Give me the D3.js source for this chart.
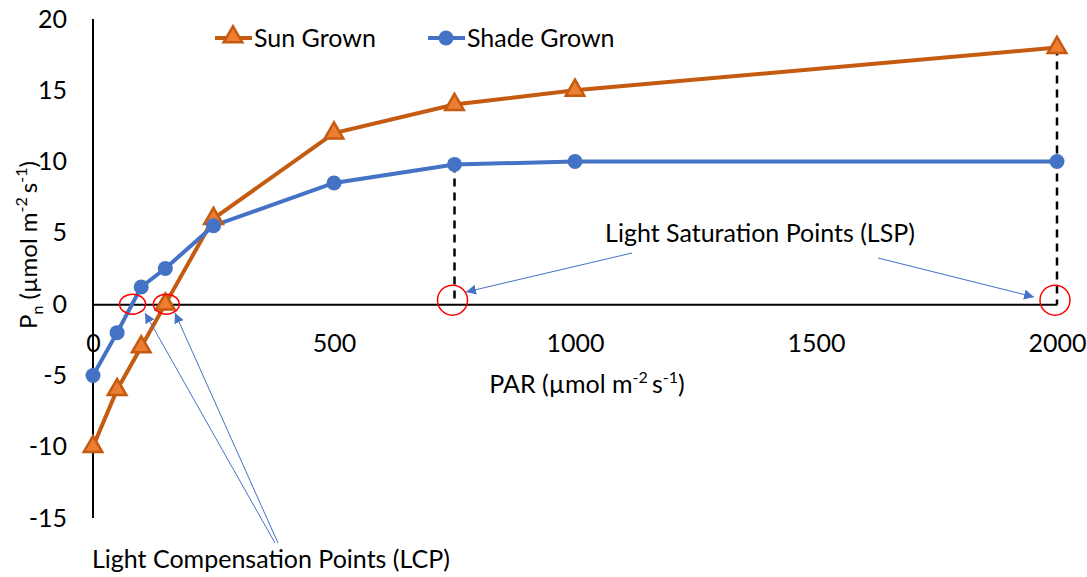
<!DOCTYPE html>
<html>
  <head>
    <meta charset="utf-8">
    <title>Light response curves</title>
    <script src="https://d3js.org/d3.v7.min.js"></script>
    <style>
      body { margin: 0; background: #fff; }
      svg text { font-family: Lato, "Open Sans", sans-serif; fill: #000; }
      .axis text { font-size: 25px; }
      .axis path { stroke: #000; stroke-width: 2px; }
    </style>
  </head>
  <body>
    <svg width="1087" height="577"></svg>
    <script>
      // data
      var par = [0, 50, 100, 150, 250, 500, 750, 1000, 2000];
      var sunGrown = [-10, -6, -3, 0, 6, 12, 14, 15, 18];
      var shadeGrown = [-5, -2, 1.2, 2.5, 5.5, 8.5, 9.8, 10, 10];
      var xTicks = [0, 500, 1000, 1500, 2000];
      var yTicks = [-15, -10, -5, 0, 5, 10, 15, 20];
      var lcp = [{x: 80, s: "shade"}, {x: 150, s: "sun"}];
      var lsp = [{x: 750, y: 9.8}, {x: 2000, y: 18}];

      var sunColor = "#c55a11", shadeColor = "#4472c4";

      var svg = d3.select("svg");

      var x = d3.scaleLinear().domain([0, 2000]).range([93, 1057]);
      var y = d3.scaleLinear().domain([-15, 20]).range([518, 19]);

      svg.append("defs").append("marker")
          .attr("id", "arrow")
          .attr("viewBox", "0 0 10 10")
          .attr("refX", 10).attr("refY", 5)
          .attr("markerWidth", 10).attr("markerHeight", 10)
          .attr("markerUnits", "userSpaceOnUse")
          .attr("orient", "auto")
        .append("path")
          .attr("d", "M0,0L10,5L0,10z")
          .attr("fill", shadeColor);

      var plain = function(d) { return String(d); };

      // y axis
      var yAxis = svg.append("g")
          .attr("class", "axis")
          .attr("transform", "translate(" + x(0) + ",0)")
          .call(d3.axisLeft(y).tickValues(yTicks).tickFormat(plain).tickSize(0).tickPadding(26));
      yAxis.select(".domain").attr("d", "M0," + y(20) + "V" + y(-15));

      // x axis on the zero line, labels low
      var xAxis = svg.append("g")
          .attr("class", "axis")
          .attr("transform", "translate(0," + y(0) + ")")
          .call(d3.axisBottom(x).tickValues(xTicks).tickFormat(plain).tickSize(0).tickPadding(30));
      xAxis.select(".domain").attr("stroke-width", 1.5);

      // dashed drops to the axis
      svg.selectAll(".drop")
          .data(lsp)
          .enter().append("line")
          .attr("x1", function(d) { return x(d.x); })
          .attr("x2", function(d) { return x(d.x); })
          .attr("y1", function(d) { return y(d.y); })
          .attr("y2", y(0))
          .attr("stroke", "#000")
          .attr("stroke-width", 2.5)
          .attr("stroke-dasharray", "8,6");

      var line = d3.line()
          .x(function(d, i) { return x(par[i]); })
          .y(function(d) { return y(d); });

      svg.append("path")
          .datum(sunGrown)
          .attr("d", line)
          .attr("fill", "none")
          .attr("stroke", sunColor)
          .attr("stroke-width", 4);

      svg.append("path")
          .datum(shadeGrown)
          .attr("d", line)
          .attr("fill", "none")
          .attr("stroke", shadeColor)
          .attr("stroke-width", 4);

      var tri = d3.symbol().type(d3.symbolTriangle).size(150);

      svg.selectAll(".sun")
          .data(sunGrown)
          .enter().append("path")
          .attr("transform", function(d, i) { return "translate(" + x(par[i]) + "," + y(d) + ")"; })
          .attr("d", tri)
          .attr("fill", "#ed7d31")
          .attr("stroke", sunColor)
          .attr("stroke-width", 2.5);

      svg.selectAll(".shade")
          .data(shadeGrown)
          .enter().append("circle")
          .attr("cx", function(d, i) { return x(par[i]); })
          .attr("cy", function(d) { return y(d); })
          .attr("r", 7.5)
          .attr("fill", shadeColor);

      // red rings
      svg.selectAll(".lcpRing")
          .data(lcp)
          .enter().append("ellipse")
          .attr("cx", function(d) { return x(d.x) + 1; })
          .attr("cy", y(0))
          .attr("rx", 13).attr("ry", 10)
          .attr("fill", "none")
          .attr("stroke", "#ff0000")
          .attr("stroke-width", 1.5);

      svg.selectAll(".lspRing")
          .data(lsp)
          .enter().append("ellipse")
          .attr("cx", function(d) { return x(d.x) - 2; })
          .attr("cy", y(0) - 4)
          .attr("rx", 15).attr("ry", 15)
          .attr("fill", "none")
          .attr("stroke", "#ff0000")
          .attr("stroke-width", 1.5);

      // arrows
      var arrows = [
        [275, 543, 145, 313],
        [278, 543, 175, 313],
        [632, 253, 466, 292],
        [878, 258, 1034, 297]
      ];
      svg.selectAll(".arrow")
          .data(arrows)
          .enter().append("line")
          .attr("x1", function(d) { return d[0]; })
          .attr("y1", function(d) { return d[1]; })
          .attr("x2", function(d) { return d[2]; })
          .attr("y2", function(d) { return d[3]; })
          .attr("stroke", shadeColor)
          .attr("stroke-width", 1)
          .attr("marker-end", "url(#arrow)");

      svg.append("text")
          .attr("x", 760).attr("y", 242)
          .attr("text-anchor", "middle")
          .attr("font-size", 25)
          .text("Light Saturation Points (LSP)");

      svg.append("text")
          .attr("x", 92).attr("y", 568)
          .attr("font-size", 25)
          .text("Light Compensation Points (LCP)");

      // axis titles
      var xt = svg.append("text")
          .attr("x", 587).attr("y", 393)
          .attr("text-anchor", "middle")
          .attr("font-size", 25);
      xt.append("tspan").text("PAR (µmol m");
      xt.append("tspan").attr("font-size", 16).attr("dy", -10).text("-2 ");
      xt.append("tspan").attr("dy", 10).text("s");
      xt.append("tspan").attr("font-size", 16).attr("dy", -10).text("-1");
      xt.append("tspan").attr("dy", 10).text(")");

      var yt = svg.append("text")
          .attr("transform", "translate(37,245) rotate(-90)")
          .attr("text-anchor", "middle")
          .attr("font-size", 24);
      yt.append("tspan").text("P");
      yt.append("tspan").attr("font-size", 16).attr("dy", 6).text("n");
      yt.append("tspan").attr("dy", -6).text(" (µmol m");
      yt.append("tspan").attr("font-size", 16).attr("dy", -10).text("-2 ");
      yt.append("tspan").attr("dy", 10).text("s");
      yt.append("tspan").attr("font-size", 16).attr("dy", -10).text("-1");
      yt.append("tspan").attr("dy", 10).text(")");

      // legend
      var legend = [
        {name: "Sun Grown", color: sunColor, x: 215},
        {name: "Shade Grown", color: shadeColor, x: 428}
      ];
      var lg = svg.selectAll(".legend")
          .data(legend)
          .enter().append("g")
          .attr("transform", function(d) { return "translate(" + d.x + ",38)"; });
      lg.append("line")
          .attr("x1", 0).attr("x2", 37)
          .attr("stroke", function(d) { return d.color; })
          .attr("stroke-width", 4);
      lg.each(function(d, i) {
        var g = d3.select(this);
        if (i === 0) {
          g.append("path").attr("transform", "translate(18,-1)")
              .attr("d", tri).attr("fill", "#ed7d31")
              .attr("stroke", sunColor).attr("stroke-width", 2.5);
        } else {
          g.append("circle").attr("cx", 18).attr("r", 7.5).attr("fill", shadeColor);
        }
      });
      lg.append("text")
          .attr("x", 39).attr("y", 9)
          .attr("font-size", 25)
          .text(function(d) { return d.name; });
    </script>
  </body>
</html>
